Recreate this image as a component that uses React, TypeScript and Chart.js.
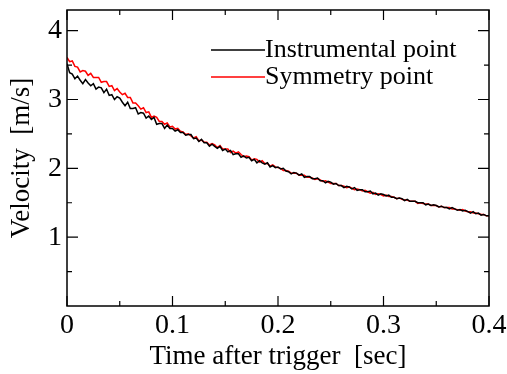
import React, { useEffect, useRef } from "react";
import { Chart, registerables } from "chart.js";

Chart.register(...registerables);

const times = [
  0.0000, 0.0025, 0.0050, 0.0075, 0.0100, 0.0125, 0.0150, 0.0175, 0.0200, 0.0225,
  0.0250, 0.0275, 0.0300, 0.0325, 0.0350, 0.0375, 0.0400, 0.0425, 0.0450, 0.0475,
  0.0500, 0.0525, 0.0550, 0.0575, 0.0600, 0.0625, 0.0650, 0.0675, 0.0700, 0.0725,
  0.0750, 0.0775, 0.0800, 0.0825, 0.0850, 0.0875, 0.0900, 0.0925, 0.0950, 0.0975,
  0.1000, 0.1025, 0.1050, 0.1075, 0.1100, 0.1125, 0.1150, 0.1175, 0.1200, 0.1225,
  0.1250, 0.1275, 0.1300, 0.1325, 0.1350, 0.1375, 0.1400, 0.1425, 0.1450, 0.1475,
  0.1500, 0.1525, 0.1550, 0.1575, 0.1600, 0.1625, 0.1650, 0.1675, 0.1700, 0.1725,
  0.1750, 0.1775, 0.1800, 0.1825, 0.1850, 0.1875, 0.1900, 0.1925, 0.1950, 0.1975,
  0.2000, 0.2025, 0.2050, 0.2075, 0.2100, 0.2125, 0.2150, 0.2175, 0.2200, 0.2225,
  0.2250, 0.2275, 0.2300, 0.2325, 0.2350, 0.2375, 0.2400, 0.2425, 0.2450, 0.2475,
  0.2500, 0.2525, 0.2550, 0.2575, 0.2600, 0.2625, 0.2650, 0.2675, 0.2700, 0.2725,
  0.2750, 0.2775, 0.2800, 0.2825, 0.2850, 0.2875, 0.2900, 0.2925, 0.2950, 0.2975,
  0.3000, 0.3025, 0.3050, 0.3075, 0.3100, 0.3125, 0.3150, 0.3175, 0.3200, 0.3225,
  0.3250, 0.3275, 0.3300, 0.3325, 0.3350, 0.3375, 0.3400, 0.3425, 0.3450, 0.3475,
  0.3500, 0.3525, 0.3550, 0.3575, 0.3600, 0.3625, 0.3650, 0.3675, 0.3700, 0.3725,
  0.3750, 0.3775, 0.3800, 0.3825, 0.3850, 0.3875, 0.3900, 0.3925, 0.3950, 0.3975,
  0.4000,
];

const instrumental = [
  3.52, 3.39, 3.37, 3.30, 3.34, 3.28, 3.23, 3.29, 3.24, 3.20,
  3.23, 3.15, 3.18, 3.17, 3.10, 3.15, 3.06, 3.07, 3.00, 3.04,
  3.02, 2.96, 2.91, 2.96, 2.87, 2.87, 2.88, 2.79, 2.81, 2.80,
  2.73, 2.76, 2.71, 2.74, 2.64, 2.65, 2.65, 2.58, 2.63, 2.58,
  2.58, 2.54, 2.56, 2.52, 2.52, 2.48, 2.49, 2.49, 2.43, 2.44,
  2.39, 2.42, 2.37, 2.37, 2.32, 2.35, 2.32, 2.29, 2.32, 2.26,
  2.28, 2.24, 2.26, 2.20, 2.21, 2.21, 2.16, 2.18, 2.15, 2.16,
  2.11, 2.13, 2.08, 2.11, 2.08, 2.06, 2.08, 2.02, 2.04, 2.01,
  2.02, 1.99, 2.00, 1.96, 1.95, 1.92, 1.94, 1.93, 1.90, 1.92,
  1.87, 1.88, 1.88, 1.85, 1.85, 1.86, 1.82, 1.82, 1.79, 1.81,
  1.80, 1.77, 1.78, 1.75, 1.75, 1.72, 1.74, 1.73, 1.70, 1.72,
  1.68, 1.69, 1.69, 1.66, 1.66, 1.67, 1.63, 1.64, 1.61, 1.63,
  1.62, 1.60, 1.61, 1.58, 1.58, 1.56, 1.57, 1.56, 1.53, 1.55,
  1.52, 1.52, 1.52, 1.50, 1.50, 1.50, 1.47, 1.48, 1.46, 1.47,
  1.46, 1.44, 1.45, 1.43, 1.43, 1.41, 1.43, 1.41, 1.39, 1.40,
  1.38, 1.39, 1.37, 1.35, 1.37, 1.34, 1.35, 1.32, 1.33, 1.31,
  1.31,
];

const symmetry = [
  3.61, 3.55, 3.56, 3.48, 3.47, 3.40, 3.42, 3.41, 3.35, 3.38,
  3.32, 3.32, 3.32, 3.25, 3.26, 3.26, 3.19, 3.20, 3.13, 3.16,
  3.11, 3.07, 3.09, 3.03, 3.03, 2.95, 2.95, 2.91, 2.86, 2.88,
  2.81, 2.82, 2.74, 2.76, 2.74, 2.68, 2.68, 2.64, 2.66, 2.60,
  2.61, 2.57, 2.58, 2.54, 2.53, 2.49, 2.50, 2.47, 2.44, 2.46,
  2.40, 2.41, 2.38, 2.38, 2.34, 2.36, 2.34, 2.30, 2.33, 2.28,
  2.28, 2.28, 2.23, 2.25, 2.22, 2.24, 2.20, 2.17, 2.18, 2.17,
  2.12, 2.14, 2.13, 2.09, 2.11, 2.07, 2.07, 2.03, 2.05, 2.02,
  2.01, 2.00, 1.97, 1.97, 1.96, 1.93, 1.93, 1.93, 1.90, 1.90,
  1.90, 1.87, 1.87, 1.86, 1.84, 1.85, 1.83, 1.81, 1.82, 1.80,
  1.78, 1.78, 1.78, 1.75, 1.75, 1.74, 1.72, 1.73, 1.71, 1.69,
  1.70, 1.69, 1.67, 1.68, 1.66, 1.64, 1.65, 1.62, 1.63, 1.62,
  1.60, 1.61, 1.59, 1.59, 1.58, 1.56, 1.57, 1.55, 1.54, 1.54,
  1.52, 1.52, 1.52, 1.49, 1.50, 1.49, 1.48, 1.48, 1.46, 1.46,
  1.46, 1.44, 1.45, 1.43, 1.43, 1.43, 1.41, 1.41, 1.40, 1.39,
  1.40, 1.38, 1.37, 1.37, 1.35, 1.35, 1.34, 1.33, 1.33, 1.31,
  1.31,
];

const xMajorTicks = [0, 0.1, 0.2, 0.3, 0.4];
const xMinorTicks = [0.05, 0.15, 0.25, 0.35];
const yMajorTicks = [1, 2, 3, 4];
const yMinorTicks = [0.5, 1.5, 2.5, 3.5];

const seriesNames = ["Instrumental point", "Symmetry point"];
const seriesColors = ["#000000", "#ff0000"];

const FONT = "'Liberation Serif', 'Times New Roman', serif";

const framePlugin = {
  id: "frameTicks",
  afterDatasetsDraw(chart: any) {
    const { ctx, chartArea: ca, scales } = chart;
    const xs = scales.x;
    const ys = scales.y;
    ctx.save();
    ctx.strokeStyle = "#000";
    ctx.lineWidth = 1.5;
    ctx.strokeRect(ca.left, ca.top, ca.right - ca.left, ca.bottom - ca.top);
    ctx.lineWidth = 1.2;
    const drawX = (vals: number[], len: number) => {
      vals.forEach((v) => {
        const px = xs.getPixelForValue(v);
        ctx.beginPath();
        ctx.moveTo(px, ca.bottom);
        ctx.lineTo(px, ca.bottom - len);
        ctx.moveTo(px, ca.top);
        ctx.lineTo(px, ca.top + len);
        ctx.stroke();
      });
    };
    const drawY = (vals: number[], len: number) => {
      vals.forEach((v) => {
        const py = ys.getPixelForValue(v);
        ctx.beginPath();
        ctx.moveTo(ca.left, py);
        ctx.lineTo(ca.left + len, py);
        ctx.moveTo(ca.right, py);
        ctx.lineTo(ca.right - len, py);
        ctx.stroke();
      });
    };
    drawX(xMajorTicks, 10);
    drawX(xMinorTicks, 5);
    drawY(yMajorTicks, 11);
    drawY(yMinorTicks, 5);

    // legend
    ctx.font = `26px ${FONT}`;
    ctx.textBaseline = "middle";
    ctx.textAlign = "left";
    seriesNames.forEach((name, i) => {
      const y = ca.top + 40 + i * 27;
      const x0 = ca.left + 144;
      const x1 = ca.left + 198;
      ctx.strokeStyle = seriesColors[i];
      ctx.lineWidth = 1.3;
      ctx.beginPath();
      ctx.moveTo(x0, y);
      ctx.lineTo(x1, y);
      ctx.stroke();
      ctx.fillStyle = "#000";
      ctx.fillText(name, x1, y);
    });
    ctx.restore();
  },
};

export default function App() {
  const ref = useRef<HTMLCanvasElement | null>(null);
  useEffect(() => {
    if (!ref.current) return;
    const chart = new Chart(ref.current, {
      type: "line",
      data: {
        datasets: [
          {
            label: seriesNames[0],
            data: times.map((t, i) => ({ x: t, y: instrumental[i] })),
            borderColor: seriesColors[0],
            borderWidth: 1.5,
            pointRadius: 0,
            tension: 0,
          },
          {
            label: seriesNames[1],
            data: times.map((t, i) => ({ x: t, y: symmetry[i] })),
            borderColor: seriesColors[1],
            borderWidth: 1.5,
            pointRadius: 0,
            tension: 0,
          },
        ],
      },
      options: {
        animation: false,
        responsive: true,
        maintainAspectRatio: false,
        layout: { padding: { top: 10, right: 18, left: 0, bottom: 0 } },
        plugins: {
          legend: { display: false },
          tooltip: { enabled: false },
        },
        scales: {
          x: {
            type: "linear",
            min: 0,
            max: 0.4,
            afterBuildTicks: (s: any) => {
              s.ticks = xMajorTicks.map((v) => ({ value: v }));
            },
            afterFit: (s: any) => {
              s.height = 68;
              s.paddingLeft = 0;
              s.paddingRight = 0;
            },
            grid: { display: false, drawTicks: false },
            border: { display: false },
            ticks: {
              color: "#000",
              padding: 3,
              maxRotation: 0,
              font: { family: FONT, size: 28 },
              callback: (v: any) => (v === 0 ? "0" : Number(v).toFixed(1)),
            },
            title: {
              display: true,
              text: "Time after trigger  [sec]",
              color: "#000",
              font: { family: FONT, size: 27 },
              padding: { top: 0, bottom: 1 },
            },
          },
          y: {
            type: "linear",
            min: 0,
            max: 4.3,
            afterBuildTicks: (s: any) => {
              s.ticks = yMajorTicks.map((v) => ({ value: v }));
            },
            afterFit: (s: any) => {
              s.width = 67;
              s.paddingTop = 0;
              s.paddingBottom = 0;
            },
            grid: { display: false, drawTicks: false },
            border: { display: false },
            ticks: {
              color: "#000",
              padding: 5,
              font: { family: FONT, size: 28 },
              callback: (v: any) => String(v),
            },
            title: {
              display: true,
              text: "Velocity  [m/s]",
              color: "#000",
              font: { family: FONT, size: 27 },
              padding: { top: 6, bottom: 0 },
            },
          },
        },
      },
      plugins: [framePlugin],
    });
    return () => chart.destroy();
  }, []);
  return (
    <div style={{ position: "fixed", left: 0, top: 0, width: 507, height: 374, background: "#fff" }}>
      <canvas ref={ref} />
    </div>
  );
}
